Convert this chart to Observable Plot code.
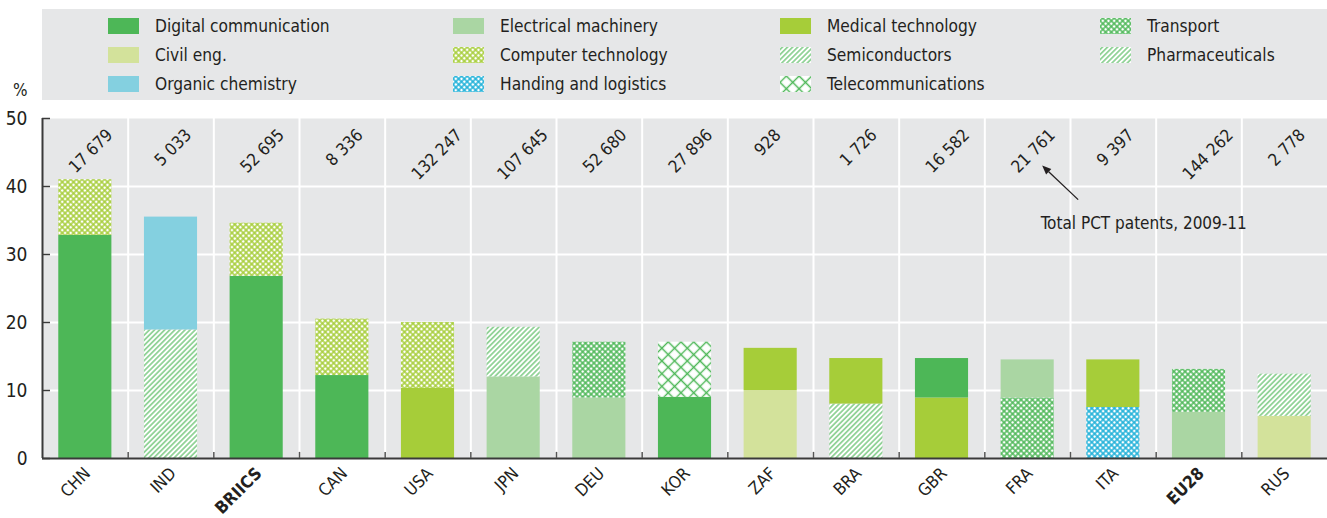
<!DOCTYPE html>
<html><head><meta charset="utf-8">
<script src="https://cdn.jsdelivr.net/npm/d3@7"></script>
<script src="https://cdn.jsdelivr.net/npm/@observablehq/plot@0.6"></script>
<style>
body{margin:0;background:#fff;font-family:"DejaVu Sans Condensed","Liberation Sans Narrow",sans-serif;color:#231f20;}
#wrap{position:relative;width:1327px;height:518px;overflow:hidden;}
#legendbg{position:absolute;left:42px;top:9px;width:1285px;height:91px;background:#e6e7e8;}
.item{position:absolute;display:flex;align-items:center;font-size:17.2px;height:20px;white-space:nowrap;}
.item svg{margin-right:16px;flex:none;}
#pct{position:absolute;left:13px;top:80px;font-size:17px;}
#chart{position:absolute;left:0;top:100px;}
</style></head>
<body>
<svg width="0" height="0" style="position:absolute">
<defs>
<pattern id="p-comp" width="4" height="4" patternUnits="userSpaceOnUse" patternTransform="rotate(45)">
<rect width="4" height="4" fill="#fff"/><path d="M0 2H4M2 0V4" stroke="#a6cd39" stroke-width="1.5"/></pattern>
<pattern id="p-trans" width="4" height="4" patternUnits="userSpaceOnUse" patternTransform="rotate(45)">
<rect width="4" height="4" fill="#fff"/><path d="M0 2H4M2 0V4" stroke="#4db757" stroke-width="1.5"/></pattern>
<pattern id="p-handl" width="4" height="4" patternUnits="userSpaceOnUse" patternTransform="rotate(45)">
<rect width="4" height="4" fill="#fff"/><path d="M0 2H4M2 0V4" stroke="#1cb0d8" stroke-width="1.5"/></pattern>
<pattern id="p-tele" width="9" height="9" patternUnits="userSpaceOnUse" patternTransform="rotate(45)">
<rect width="9" height="9" fill="#fff"/><path d="M0 4.5H9M4.5 0V9" stroke="#4db757" stroke-width="1.4"/></pattern>
<pattern id="p-semi" width="3.6" height="10" patternUnits="userSpaceOnUse" patternTransform="rotate(45)">
<rect width="3.6" height="10" fill="#fff"/><path d="M1.8 0V10" stroke="#4db757" stroke-width="1.1"/></pattern>
<pattern id="p-pharma" width="3.6" height="10" patternUnits="userSpaceOnUse" patternTransform="rotate(45)">
<rect width="3.6" height="10" fill="#fff"/><path d="M1.8 0V10" stroke="#4db757" stroke-width="1.1"/></pattern>
</defs></svg>
<div id="wrap">
<div id="legendbg"></div>
<div id="pct">%</div>
<div id="chart"></div>
</div>
<script>
// ---- data ----
const countries = ["CHN","IND","BRIICS","CAN","USA","JPN","DEU","KOR","ZAF","BRA","GBR","FRA","ITA","EU28","RUS"];
const totalPatents = [17679,5033,52695,8336,132247,107645,52680,27896,928,1726,16582,21761,9397,144262,2778];
const firstField = ["Digital communication","Pharmaceuticals","Digital communication","Digital communication","Medical technology","Electrical machinery","Electrical machinery","Digital communication","Civil eng.","Pharmaceuticals","Medical technology","Transport","Handing and logistics","Electrical machinery","Civil eng."];
const firstShare = [32.8,18.9,26.8,12.2,10.3,12.0,8.9,9.0,10.0,8.0,8.9,8.9,7.5,6.8,6.2];
const secondField = ["Computer technology","Organic chemistry","Computer technology","Computer technology","Computer technology","Semiconductors","Transport","Telecommunications","Medical technology","Medical technology","Digital communication","Electrical machinery","Medical technology","Transport","Pharmaceuticals"];
const secondShare = [8.2,16.6,7.8,8.3,9.7,7.3,8.2,8.1,6.2,6.7,5.8,5.6,7.0,6.3,6.2];
const legendFields = ["Digital communication","Electrical machinery","Medical technology","Transport","Civil eng.","Computer technology","Semiconductors","Pharmaceuticals","Organic chemistry","Handing and logistics","Telecommunications"];
const boldCountries = ["BRIICS","EU28"];
const yTicks = [0,10,20,30,40,50];
const annotation = {country:"FRA", label:"Total PCT patents, 2009-11", tail:38, head:43, text:34.6};

// ---- styles ----
const fills = {
  "Digital communication":"#4db757",
  "Electrical machinery":"#aad6a3",
  "Medical technology":"#a6cd39",
  "Civil eng.":"#d3e29b",
  "Organic chemistry":"#84d0e0",
  "Computer technology":"url(#p-comp)",
  "Handing and logistics":"url(#p-handl)",
  "Transport":"url(#p-trans)",
  "Semiconductors":"url(#p-semi)",
  "Pharmaceuticals":"url(#p-pharma)",
  "Telecommunications":"url(#p-tele)"
};
const FONT = '"DejaVu Sans Condensed","Liberation Sans Narrow",sans-serif';
const INK = "#231f20";

// ---- legend ----
const colX = [108,453,780,1100];
const rowY = [26,55,84];
const wrap = document.getElementById("wrap");
legendFields.forEach((f,i)=>{
  const c = i%4, r = Math.floor(i/4);
  const div = document.createElement("div");
  div.className = "item";
  div.style.left = colX[c]+"px";
  div.style.top = (rowY[r]-10)+"px";
  div.innerHTML = `<svg width="31" height="16"><rect width="31" height="16" fill="${fills[f]}"/></svg><span>${f}</span>`;
  wrap.appendChild(div);
});

// ---- chart ----
const W = 1327, H = 418, ML = 42, MR = 0, MT = 18, MB = 60;
const step = (W-ML-MR)/countries.length;
const rows = countries.flatMap((c,i)=>[
  {country:c, field:firstField[i], share:firstShare[i]},
  {country:c, field:secondField[i], share:secondShare[i]}
]);
const labels = countries.map((c,i)=>({country:c, total:totalPatents[i], bold:boldCountries.includes(c)}));
const fmt = n => d3.format(",")(n).replace(/,/g," ");

const chart = Plot.plot({
  width: W, height: H, marginLeft: ML, marginRight: MR, marginTop: MT, marginBottom: MB,
  style: {fontFamily: FONT, fontSize: "17px", color: INK, background: "transparent", overflow: "visible"},
  x: {domain: countries, paddingInner: 0.38, paddingOuter: 0.19, round: false, axis: null},
  y: {domain: [0,50], axis: null},
  color: {type: "identity"},
  marks: [
    Plot.frame({fill:"#e6e7e8", stroke:"none"}),
    Plot.ruleY(yTicks.slice(1,-1), {stroke:"#fff", strokeWidth:2}),
    Plot.ruleX(countries.slice(1), {dx:-step/2, stroke:"#fff", strokeWidth:2}),
    Plot.barY(rows, {x:"country", y:"share", fill:d=>fills[d.field]}),
    Plot.ruleY([0], {stroke:"#3a3a3a", strokeWidth:2}),
    Plot.ruleX(countries.slice(0,1), {dx:-step/2, stroke:"#3a3a3a", strokeWidth:2}),
    Plot.ruleX(countries.slice(1), {y1:0, y2:0.9, dx:-step/2, stroke:"#555", strokeWidth:1.5}),
    Plot.tickY(yTicks, {y:d=>d, stroke:"#3a3a3a", strokeWidth:1.5, insetRight:(W-ML-MR)-8}),
    Plot.text(yTicks, {y:d=>d, text:d=>String(d), frameAnchor:"left", dx:-15, textAnchor:"end", fontSize:19, fill:INK}),
    Plot.text(labels, {x:"country", text:d=>fmt(d.total), frameAnchor:"top", dy:9, dx:-18, rotate:-45, textAnchor:"start", fontSize:17, fill:INK}),
    Plot.text(labels.filter(d=>!d.bold), {x:"country", text:"country", frameAnchor:"bottom", dy:16, dx:6, rotate:-45, textAnchor:"end", fontSize:17, fill:INK}),
    Plot.text(labels.filter(d=>d.bold), {x:"country", text:"country", frameAnchor:"bottom", dy:16, dx:6, rotate:-45, textAnchor:"end", fontSize:17, fontWeight:"bold", fill:INK}),
    Plot.text([annotation], {x:"country", y:"text", text:"label", dx:13, textAnchor:"start", fontSize:17, fill:INK})
  ]
});
document.getElementById("chart").appendChild(chart);

// top labels: keep their top edge aligned (shift each down by its rotated length)
const totalTexts = new Set(labels.map(d=>fmt(d.total)));
d3.select(chart).selectAll("text").each(function(){
  if (!totalTexts.has(this.textContent)) return;
  const L = this.getComputedTextLength();
  const t = this.getAttribute("transform") || "";
  this.setAttribute("transform", `translate(0,${(L*Math.SQRT1_2).toFixed(2)}) ` + t);
});

// annotation arrow through the chart's scales
const ys = chart.scale("y");
const xr = chart.scale("x").range;
const cx = xr[0] + step*(countries.indexOf(annotation.country)+0.5);
const svg = d3.select(chart);
const x1 = cx+51, y1 = ys.apply(annotation.tail), x2 = cx+15, y2 = ys.apply(annotation.head);
const ang = Math.atan2(y2-y1, x2-x1);
const L = 9, Wd = 3.8;
const bx = x2 - L*Math.cos(ang), by = y2 - L*Math.sin(ang);
svg.append("line").attr("x1",x1).attr("y1",y1).attr("x2",bx).attr("y2",by).attr("stroke",INK).attr("stroke-width",1.3);
svg.append("path").attr("d",`M${x2},${y2}L${bx - Wd*Math.sin(ang)},${by + Wd*Math.cos(ang)}L${bx + Wd*Math.sin(ang)},${by - Wd*Math.cos(ang)}Z`).attr("fill",INK);
</script>
</body></html>
